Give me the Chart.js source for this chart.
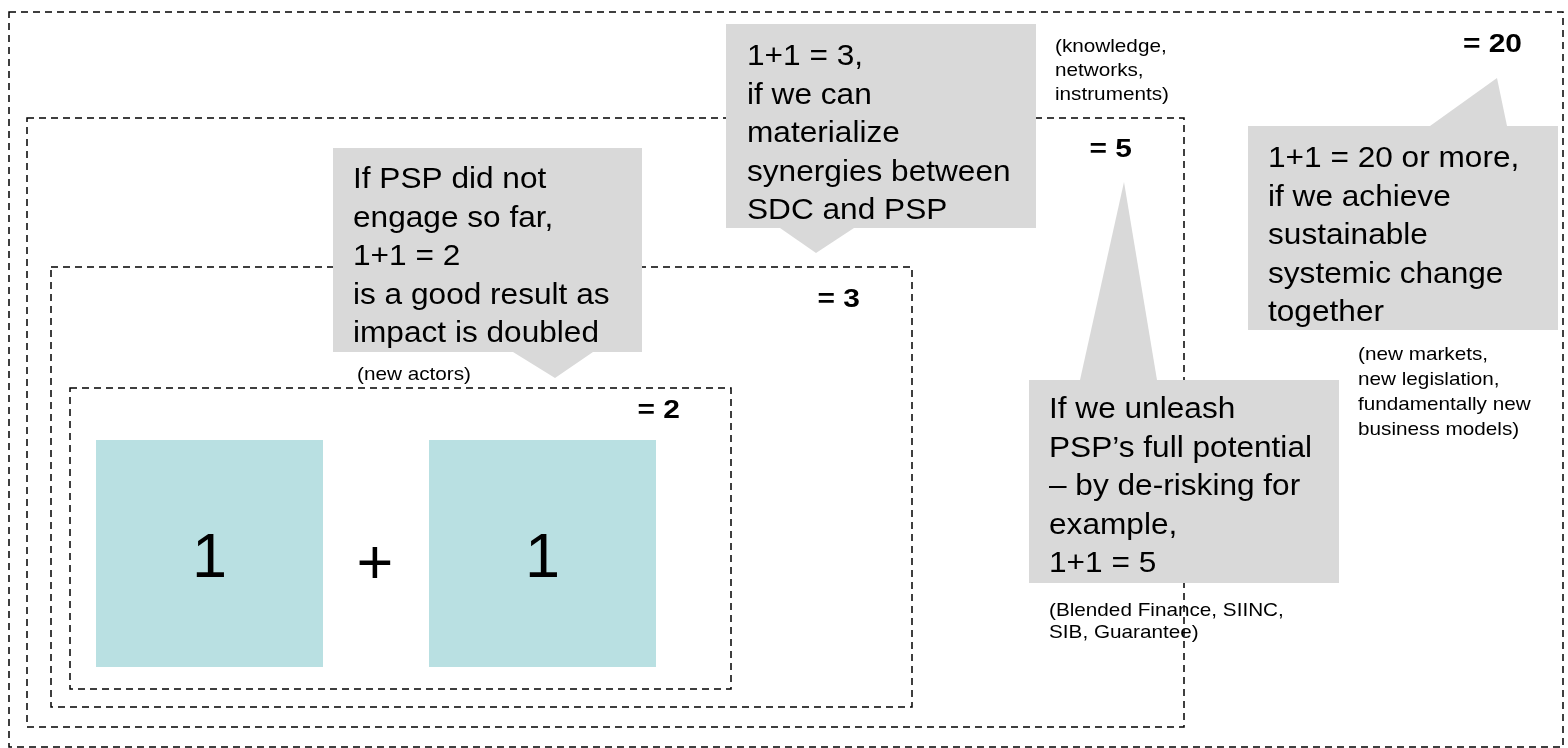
<!DOCTYPE html>
<html>
<head>
<meta charset="utf-8">
<script src="https://cdn.jsdelivr.net/npm/chart.js@4.4.1/dist/chart.umd.min.js"></script>
<style>
  html, body { margin: 0; padding: 0; background: #fff; }
  canvas { display: block; }
</style>
</head>
<body>
<canvas id="chart" width="1568" height="748"></canvas>
<script>
// nested dashed frames, innermost first (diagram units = px of the 1568x748 sheet)
const frameLabels = ['= 2', '= 3', '= 5', '= 20'];
const frameX0 = [70, 51, 27, 9];
const frameY0 = [388, 267, 118, 12];
const frameX1 = [731, 912, 1184, 1563];
const frameY1 = [689, 707, 727, 747];
const labelRight = [680, 860, 1132, 1522];
const labelBase = [418, 307, 157, 52];

// the two "1" blocks and the plus sign
const terms = ['1', '+', '1'];
const termX = [209.5, 375, 542.5];
const termBase = [577, 584, 577];
const blockX0 = [96, 429];
const blockX1 = [323, 656];
const blockY0 = [440, 440];
const blockY1 = [667, 667];

// callouts: text lines, box, pointer (base left, base right, tip)
const calloutText = [
  ['If PSP did not', 'engage so far,', '1+1 = 2', 'is a good result as', 'impact is doubled'],
  ['1+1 = 3,', 'if we can', 'materialize', 'synergies between', 'SDC and PSP'],
  ['If we unleash', 'PSP\u2019s full potential', '\u2013 by de-risking for', 'example,', '1+1 = 5'],
  ['1+1 = 20 or more,', 'if we achieve', 'sustainable', 'systemic change', 'together']
];
const calloutBox = [[333, 148, 642, 352], [726, 24, 1036, 228], [1029, 380, 1339, 583], [1248, 126, 1558, 330]];
const calloutPointer = [[513, 593, 555, 378], [780, 854, 816, 253], [1080, 1157, 1124, 182], [1430, 1507, 1497, 78]];
const calloutTextX = [353, 747, 1049, 1268];
const calloutFirstBase = [188, 65, 418, 167];
const calloutLineGap = 38.5;

// small grey notes
const noteText = [
  ['(new actors)'],
  ['(knowledge,', 'networks,', 'instruments)'],
  ['(Blended Finance, SIINC,', 'SIB, Guarantee)'],
  ['(new markets,', 'new legislation,', 'fundamentally new', 'business models)']
];
const noteX = [357, 1055, 1049, 1358];
const noteFirstBase = [380, 52, 616, 360];
const noteLineGap = [24, 24, 22, 25];

const FONT = '"Liberation Sans", Arial, Helvetica, sans-serif';
const STRETCH = 1.09;

function drawText(ctx, str, x, y, font, align, stretch) {
  ctx.save();
  ctx.font = font;
  ctx.textAlign = align;
  ctx.textBaseline = 'alphabetic';
  ctx.translate(x, y);
  ctx.scale(stretch, 1);
  ctx.fillText(str, 0, 0);
  ctx.restore();
}

const diagramPlugin = {
  id: 'diagram',
  afterDraw(chart) {
    const { ctx } = chart;
    const sx = v => chart.scales.x.getPixelForValue(v);
    const sy = v => chart.scales.y.getPixelForValue(v);
    ctx.save();

    // dashed frames
    ctx.strokeStyle = '#000';
    ctx.lineWidth = 1.5;
    ctx.setLineDash([7, 5]);
    frameLabels.forEach((_, i) => {
      ctx.strokeRect(sx(frameX0[i]), sy(frameY0[i]),
        sx(frameX1[i]) - sx(frameX0[i]), sy(frameY1[i]) - sy(frameY0[i]));
    });
    ctx.setLineDash([]);

    // blocks
    ctx.fillStyle = '#B9E0E2';
    blockX0.forEach((_, i) => {
      ctx.fillRect(sx(blockX0[i]), sy(blockY0[i]),
        sx(blockX1[i]) - sx(blockX0[i]), sy(blockY1[i]) - sy(blockY0[i]));
    });

    // callout shapes
    ctx.fillStyle = '#D9D9D9';
    calloutBox.forEach((b, i) => {
      const p = calloutPointer[i];
      ctx.fillRect(sx(b[0]), sy(b[1]), sx(b[2]) - sx(b[0]), sy(b[3]) - sy(b[1]));
      const baseY = p[3] > b[3] ? b[3] : b[1];
      ctx.beginPath();
      ctx.moveTo(sx(p[0]), sy(baseY));
      ctx.lineTo(sx(p[2]), sy(p[3]));
      ctx.lineTo(sx(p[1]), sy(baseY));
      ctx.closePath();
      ctx.fill();
    });

    ctx.fillStyle = '#000';
    // frame results
    frameLabels.forEach((t, i) => {
      drawText(ctx, t, sx(labelRight[i]), sy(labelBase[i]), 'bold 26px ' + FONT, 'right', 1.15);
    });
    // terms
    terms.forEach((t, i) => {
      drawText(ctx, t, sx(termX[i]), sy(termBase[i]), '63px ' + FONT, 'center', 1);
    });
    // callout texts
    calloutText.forEach((lines, i) => {
      lines.forEach((line, j) => {
        drawText(ctx, line, sx(calloutTextX[i]), sy(calloutFirstBase[i] + j * calloutLineGap),
          '29px ' + FONT, 'left', STRETCH);
      });
    });
    // notes
    noteText.forEach((lines, i) => {
      lines.forEach((line, j) => {
        drawText(ctx, line, sx(noteX[i]), sy(noteFirstBase[i] + j * noteLineGap[i]),
          '19px ' + FONT, 'left', STRETCH);
      });
    });

    // frame 5 edge shows through the Blended Finance note
    ctx.restore();
  }
};

new Chart(document.getElementById('chart'), {
  type: 'scatter',
  data: { datasets: [] },
  options: {
    responsive: false,
    animation: false,
    layout: { padding: 0 },
    plugins: { legend: { display: false }, tooltip: { enabled: false } },
    scales: {
      x: { type: 'linear', min: 0, max: 1568, display: false },
      y: { type: 'linear', min: 0, max: 748, reverse: true, display: false }
    }
  },
  plugins: [diagramPlugin]
});
</script>
</body>
</html>
